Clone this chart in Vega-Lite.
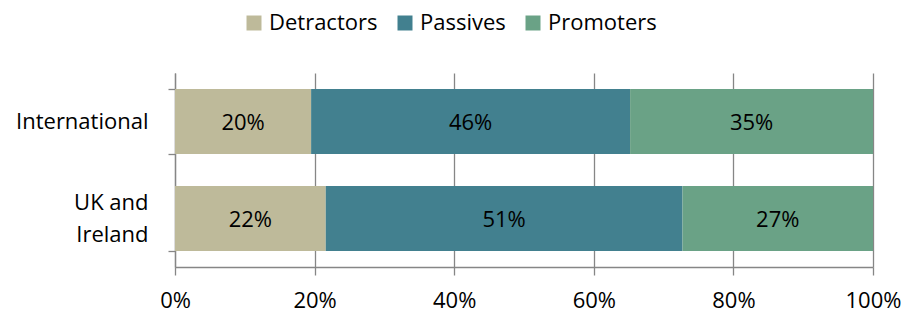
{
  "$schema": "https://vega.github.io/schema/vega-lite/v6.json",
  "width": 698,
  "height": 194,
  "autosize": "none",
  "padding": {"left": 175, "top": 73, "right": 33, "bottom": 46},
  "background": "white",
  "config": {
    "font": "Open Sans",
    "view": {"stroke": null},
    "axis": {"labelFont": "Open Sans", "labelFontSize": 22, "labelColor": "#000000", "domainColor": "#868686", "tickColor": "#868686", "gridColor": "#868686", "domainWidth": 1.3, "tickWidth": 1.3, "gridWidth": 1.3}
  },
  "data": {
    "values": [
      {"group": "International", "type": "Detractors", "order": 1, "value": 0.195},
      {"group": "International", "type": "Passives", "order": 2, "value": 0.457},
      {"group": "International", "type": "Promoters", "order": 3, "value": 0.348},
      {"group": "UK and Ireland", "type": "Detractors", "order": 1, "value": 0.216},
      {"group": "UK and Ireland", "type": "Passives", "order": 2, "value": 0.511},
      {"group": "UK and Ireland", "type": "Promoters", "order": 3, "value": 0.273}
    ]
  },
  "transform": [
    {"stack": "value", "groupby": ["group"], "sort": [{"field": "order"}], "as": ["v0", "v1"]},
    {"calculate": "(datum.v0 + datum.v1) / 2", "as": "mid"}
  ],
  "encoding": {
    "y": {
      "field": "group", "type": "nominal", "title": null,
      "scale": {"paddingInner": 0.33, "paddingOuter": 0.165},
      "axis": {"tickBand": "extent", "tickSize": 7, "labelPadding": 20, "labelExpr": "datum.value == 'UK and Ireland' ? ['UK and', 'Ireland'] : datum.label", "labelLineHeight": 32,
        "labelOffset": {"condition": {"test": "datum.value == 'UK and Ireland'", "value": -16}, "value": 0}}
    }
  },
  "layer": [
    {
      "mark": {"type": "bar"},
      "encoding": {
        "x": {"field": "v0", "type": "quantitative", "title": null,
          "scale": {"domain": [0, 1], "nice": false},
          "axis": {"format": ".0%", "values": [0, 0.2, 0.4, 0.6, 0.8, 1], "grid": true, "tickSize": 8, "labelPadding": 15, "labelFlush": false, "domain": true}},
        "x2": {"field": "v1"},
        "color": {
          "field": "type", "type": "nominal", "title": null,
          "scale": {"domain": ["Detractors", "Passives", "Promoters"], "range": ["#BEBA9A", "#42808F", "#6AA286"]},
          "legend": {"orient": "none", "direction": "horizontal", "legendX": 68, "legendY": -61, "symbolType": "square", "symbolSize": 225, "symbolStrokeWidth": 0, "labelFont": "Open Sans", "labelFontSize": 22, "labelColor": "#000000", "columnPadding": 16, "labelOffset": 4, "symbolOpacity": 1}
        }
      }
    },
    {
      "mark": {"type": "text", "fontSize": 22, "font": "Open Sans", "color": "#000000", "dy": 1},
      "encoding": {
        "x": {"field": "mid", "type": "quantitative"},
        "text": {"field": "value", "type": "quantitative", "format": ".0%"}
      }
    }
  ]
}
